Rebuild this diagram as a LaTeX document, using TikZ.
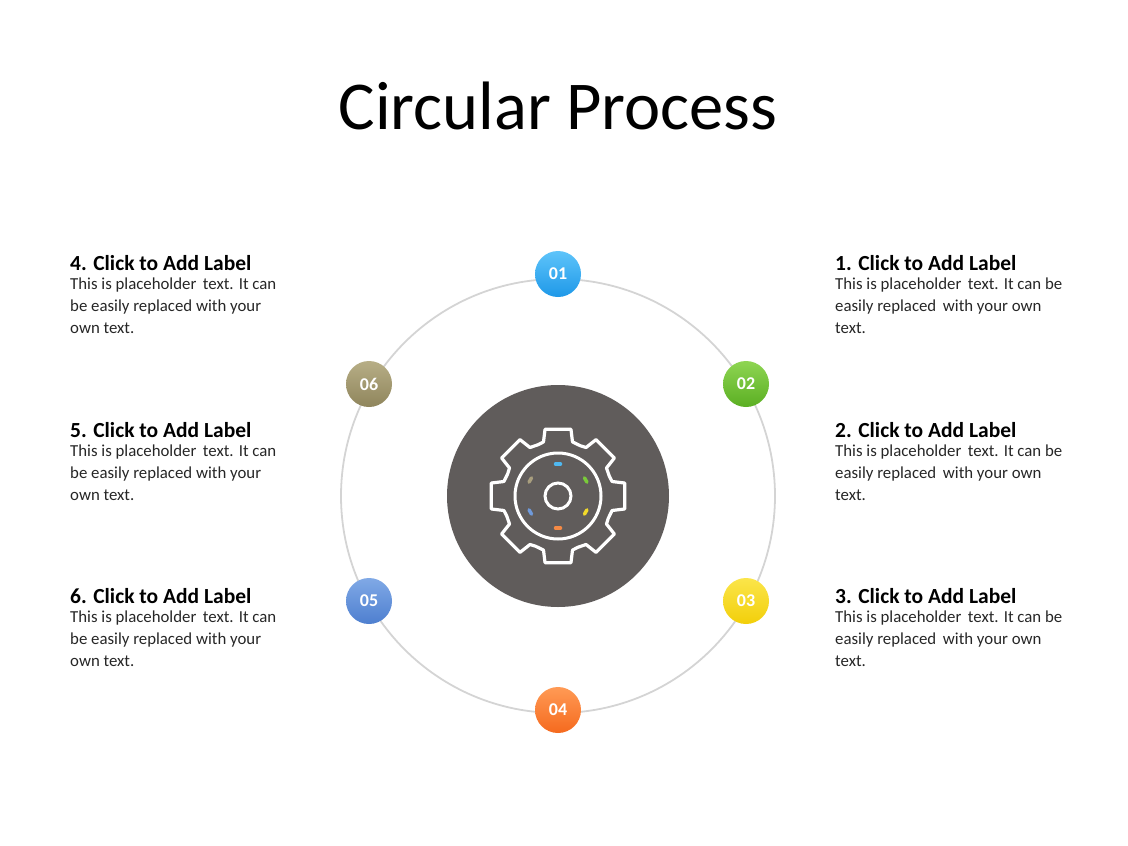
\documentclass[tikz,border=0pt]{standalone}
\usepackage{fontspec}
\setmainfont{Carlito}
\begin{document}
\begin{tikzpicture}[x=1pt,y=-1pt,
  num/.style={circle,minimum size=46pt,inner sep=0pt,text=white,font=\bfseries\fontsize{18}{18}\selectfont},
  head/.style={anchor=north west,inner sep=0pt,font=\bfseries\fontsize{21.5}{24}\selectfont},
  body/.style={anchor=north west,inner sep=0pt,align=left,text=black!85,font=\fontsize{16.8}{22}\selectfont}]
\useasboundingbox (0,0) rectangle (1128,846);
\node (title) at (558,106) {\fontsize{68.5}{70}\selectfont Circular Process};
\coordinate (c) at (558,496);
\draw[black!17,line width=1.8pt] (c) circle[radius=217];
\fill[fill={rgb,255:red,96;green,92;blue,91}] (c) circle[radius=111];
% gear
\begin{scope}[shift={(558,496)},y=1pt]
\draw[white,line width=3.2pt,line join=round] (-24:55)
  \foreach \k in {0,...,7}{ -- ({\k*45-24}:55)
   -- ({\k*45-15}:56) -- ({\k*45-11}:68) -- ({\k*45+11}:68) -- ({\k*45+15}:56) } -- cycle;
\draw[white,line width=3pt] (0,0) circle[radius=43] (0,0) circle[radius=13];
\foreach \a/\col in {90/4FB8F0,30/7ACB3A,-30/F2DA2A,-90/F58A45,-150/6F9ADB,150/A89E7E}{
  \definecolor{dc}{HTML}{\col}
  \draw[dc,line width=3.5pt,line cap=round] (\a:32) ++(\a+90:2.5) -- ++(\a-90:5);
}
\end{scope}
\foreach \n/\p/\ca/\cb in {01/{558,274}/5EC4FA/1E98E8,02/{746,384}/8ED552/5BAF23,03/{746,601}/FBE54A/F2CF0A,
  04/{558,710}/FF9A55/F56A1E,05/{369,601}/80A9E6/4E7FCF,06/{369,384}/B7AE86/8F855C}{
  \definecolor{ca}{HTML}{\ca}\definecolor{cb}{HTML}{\cb}
  \node[num,top color=ca,bottom color=cb] (n\n) at (\p) {\n};
}
\foreach \t/\x/\y in {1/835/255,2/835/422,3/835/588,4/70/255,5/70/422,6/70/588}{
  \node[head] (h\t) at (\x,\y) {\t. Click to Add Label};
}
\node[body] (b1) at (835,278) {This is placeholder\, text. It can be\\easily replaced\, with your own\\text.};
\node[body] (b2) at (835,445) {This is placeholder\, text. It can be\\easily replaced\, with your own\\text.};
\node[body] (b3) at (835,611) {This is placeholder\, text. It can be\\easily replaced\, with your own\\text.};
\node[body] (b4) at (70,278) {This is placeholder\, text. It can\\be easily replaced with your\\own text.};
\node[body] (b5) at (70,445) {This is placeholder\, text. It can\\be easily replaced with your\\own text.};
\node[body] (b6) at (70,611) {This is placeholder\, text. It can\\be easily replaced with your\\own text.};
\end{tikzpicture}
\end{document}
